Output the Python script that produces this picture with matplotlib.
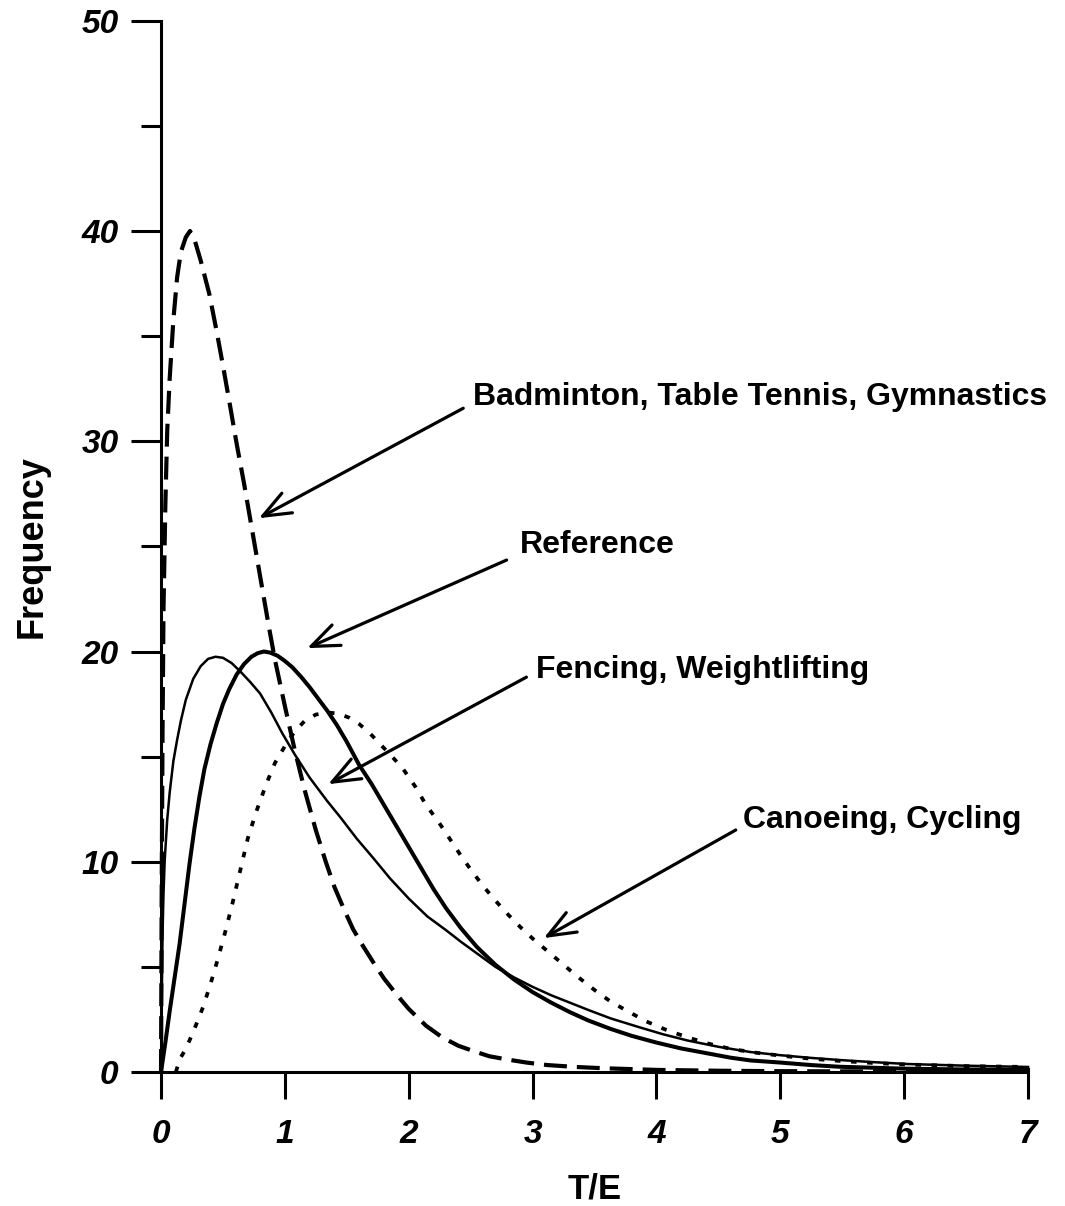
from matplotlib import pyplot as plt
from matplotlib.ticker import MultipleLocator

# Badminton, Table Tennis, Gymnastics (long dashes)
bad_x = [0, 0.005, 0.012, 0.02, 0.035, 0.05, 0.07, 0.10, 0.13, 0.16, 0.20, 0.234,
         0.27, 0.32, 0.39, 0.45, 0.50, 0.56, 0.61, 0.67, 0.72, 0.77, 0.82, 0.87,
         0.92, 1.00, 1.08, 1.16, 1.25, 1.33, 1.40, 1.48, 1.55, 1.63, 1.71, 1.80,
         1.90, 2.00, 2.14, 2.27, 2.40, 2.52, 2.65, 2.79, 2.95, 3.12, 3.35, 3.57,
         4.00, 4.50, 5.00, 6.00, 7.00]
bad_y = [0, 8, 16, 22, 27, 30.5, 33, 35.8, 37.8, 39.0, 39.7, 40.0,
         39.6, 38.6, 37.0, 35.2, 33.6, 31.6, 29.9, 28.0, 26.3, 24.6, 22.9, 21.2,
         19.6, 17.4, 15.3, 13.4, 11.5, 10.0, 8.8, 7.7, 6.8, 6.0, 5.25, 4.45,
         3.7, 3.0, 2.2, 1.65, 1.25, 1.0, 0.75, 0.6, 0.45, 0.33, 0.24, 0.18,
         0.1, 0.06, 0.04, 0.02, 0.01]

# Reference (thick solid)
ref_x = [0, 0.035, 0.07, 0.11, 0.15, 0.19, 0.23, 0.27, 0.31, 0.35, 0.40, 0.45,
         0.50, 0.55, 0.61, 0.67, 0.73, 0.78, 0.83, 0.88, 0.94, 1.00, 1.06, 1.13,
         1.20, 1.27, 1.34, 1.42, 1.50, 1.60, 1.70, 1.80, 1.90, 2.00, 2.10, 2.20,
         2.30, 2.42, 2.55, 2.70, 2.85, 3.00, 3.15, 3.30, 3.45, 3.63, 3.80, 4.00,
         4.20, 4.40, 4.60, 4.76, 5.00, 5.25, 5.48, 6.00, 6.50, 7.00]
ref_y = [0, 1.4, 2.9, 4.5, 6.1, 8.0, 9.9, 11.6, 13.1, 14.4, 15.6, 16.6,
         17.5, 18.2, 18.9, 19.4, 19.75, 19.92, 20.0, 19.95, 19.8, 19.55, 19.25, 18.8,
         18.3, 17.75, 17.2, 16.5, 15.7, 14.6, 13.7, 12.7, 11.7, 10.7, 9.7, 8.7,
         7.8, 6.85, 5.95, 5.1, 4.4, 3.8, 3.3, 2.85, 2.45, 2.05, 1.72, 1.4,
         1.12, 0.9, 0.68, 0.55, 0.45, 0.33, 0.25, 0.16, 0.12, 0.1]

# Fencing, Weightlifting (thin solid)
fen_x = [0, 0.005, 0.012, 0.02, 0.03, 0.05, 0.07, 0.10, 0.13, 0.16, 0.20, 0.26,
         0.32, 0.38, 0.44, 0.50, 0.57, 0.64, 0.72, 0.80, 0.89, 0.98, 1.08, 1.20,
         1.34, 1.45, 1.58, 1.71, 1.85, 2.00, 2.15, 2.30, 2.42, 2.56, 2.70, 2.85,
         3.00, 3.15, 3.30, 3.45, 3.63, 3.85, 4.05, 4.25, 4.50, 4.76, 5.00, 5.25,
         5.48, 5.75, 6.03, 6.50, 7.00]
fen_y = [0, 3, 6.5, 8.5, 10.1, 12.0, 13.3, 14.8, 15.8, 16.7, 17.7, 18.7,
         19.3, 19.65, 19.75, 19.7, 19.45, 19.05, 18.55, 18.0, 17.1, 16.1, 15.1, 14.0,
         12.9, 12.1, 11.1, 10.2, 9.2, 8.25, 7.4, 6.75, 6.2, 5.6, 5.0, 4.5,
         4.05, 3.65, 3.3, 2.95, 2.55, 2.15, 1.8, 1.5, 1.2, 0.95, 0.8, 0.67,
         0.57, 0.47, 0.38, 0.3, 0.24]

# Canoeing, Cycling (dotted)
can_x = [0.12, 0.15, 0.19, 0.23, 0.28, 0.34, 0.40, 0.46, 0.52, 0.58, 0.64, 0.70,
         0.77, 0.85, 0.92, 1.00, 1.08, 1.16, 1.25, 1.34, 1.43, 1.52, 1.60, 1.68,
         1.76, 1.85, 1.95, 2.05, 2.14, 2.24, 2.33, 2.42, 2.51, 2.60, 2.70, 2.80,
         2.90, 3.00, 3.12, 3.24, 3.36, 3.50, 3.63, 3.78, 3.92, 4.08, 4.25, 4.42,
         4.60, 4.80, 5.00, 5.25, 5.50, 5.75, 6.00, 6.50, 7.00]
can_y = [0, 0.6, 1.0, 1.5, 2.2, 3.1, 4.2, 5.4, 6.7, 8.1, 9.6, 11.1,
         12.4, 13.7, 14.7, 15.5, 16.2, 16.7, 17.0, 17.1, 17.05, 16.85, 16.55, 16.15,
         15.65, 15.1, 14.45, 13.6, 12.7, 11.9, 11.1, 10.3, 9.55, 8.85, 8.15, 7.5,
         6.9, 6.35, 5.75, 5.15, 4.55, 3.9, 3.35, 2.85, 2.4, 2.0, 1.65, 1.35,
         1.1, 0.92, 0.78, 0.63, 0.52, 0.43, 0.36, 0.28, 0.24]

# Labels and arrows: (text, text x, text baseline y, arrow tail, arrow tip)
notes = [
    ("Badminton, Table Tennis, Gymnastics", 2.52, 31.72, (2.44, 31.57), (0.79, 26.34)),
    ("Reference", 2.90, 24.7, (2.79, 24.35), (1.18, 20.16)),
    ("Fencing, Weightlifting", 3.03, 18.73, (2.95, 18.78), (1.35, 13.69)),
    ("Canoeing, Cycling", 4.70, 11.6, (4.64, 11.51), (3.09, 6.37)),
]

plt.rcParams['font.family'] = ['Liberation Sans', 'DejaVu Sans']

fig = plt.figure(figsize=(10.65, 12.06), dpi=100)
ax = fig.add_axes([0.1512, 0.1111, 0.8141, 0.8717])

# Curves
ax.plot(bad_x, bad_y, color='black', lw=3.0, dashes=(5.5, 2.4),
        solid_capstyle='butt', clip_on=False)
ax.plot(ref_x, ref_y, color='black', lw=2.9, clip_on=False)
ax.plot(fen_x, fen_y, color='black', lw=1.8, clip_on=False)
ax.plot(can_x, can_y, color='black', lw=2.7, dashes=(1.5, 2.8), clip_on=False)

# Annotations
for label, tx, ty, tail, tip in notes:
    ax.text(tx, ty, label, fontsize=23, fontweight='bold', ha='left',
            va='baseline')
    ax.annotate('', xy=tip, xytext=tail,
                arrowprops=dict(arrowstyle='->, head_length=1.0, head_width=0.4',
                                lw=2.3, color='black', mutation_scale=20,
                                shrinkA=0, shrinkB=0))

# Axes styling
ax.set_xlim(0, 7)
ax.set_ylim(0, 50)
for side in ['top', 'right']:
    ax.spines[side].set_visible(False)
for side in ['left', 'bottom']:
    ax.spines[side].set_linewidth(2.2)

ax.xaxis.set_major_locator(MultipleLocator(1))
ax.yaxis.set_major_locator(MultipleLocator(10))
ax.yaxis.set_minor_locator(MultipleLocator(5))
ax.tick_params(axis='y', which='major', direction='out', length=21.5, width=2.2,
               pad=9, labelsize=24)
ax.tick_params(axis='y', which='minor', direction='out', length=14.5, width=2.2)
ax.tick_params(axis='x', which='major', direction='out', length=19.5, width=2.2,
               pad=14, labelsize=24)
for lab in ax.get_xticklabels() + ax.get_yticklabels():
    lab.set_fontweight('bold')
    lab.set_fontstyle('italic')

ax.set_xlabel("T/E", fontsize=25, fontweight='bold')
ax.set_ylabel("Frequency", fontsize=26, fontweight='bold')
ax.xaxis.set_label_coords(0.5, -0.096)
ax.yaxis.set_label_coords(-0.128, 0.5)

plt.savefig('out.png', dpi=100)
